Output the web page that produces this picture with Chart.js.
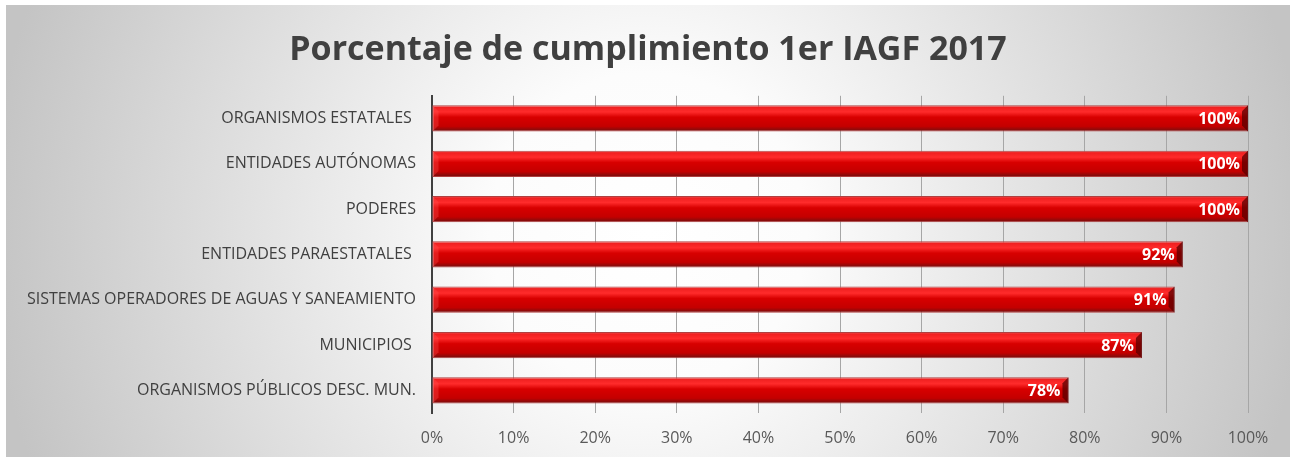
<!DOCTYPE html>
<html>
<head>
<meta charset="utf-8">
<script src="https://cdn.jsdelivr.net/npm/chart.js@4"></script>
<style>
  body { margin: 0; background: #fff; }
  #wrap {
    position: absolute; left: 6px; top: 5px; width: 1284px; height: 452px;
    background: radial-gradient(circle 660px at 50% 50%, #ffffff 0%, #fcfcfc 24%, #c4c4c4 100%);
  }
</style>
</head>
<body>
<div id="wrap"><canvas id="chart__canvas" width="1284" height="452"></canvas></div>
<script>
const categories = [
  'ORGANISMOS ESTATALES ',
  'ENTIDADES AUTÓNOMAS',
  'PODERES',
  'ENTIDADES PARAESTATALES ',
  'SISTEMAS OPERADORES DE AGUAS Y SANEAMIENTO',
  'MUNICIPIOS ',
  'ORGANISMOS PÚBLICOS DESC. MUN.'
];
const cumplimiento = [100, 100, 100, 92, 91, 87, 78];
const tickLabels = ['0%', '10%', '20%', '30%', '40%', '50%', '60%', '70%', '80%', '90%', '100%'];

const fontFamily = '"Open Sans", "Noto Sans", sans-serif';
const barPct = 0.58;

// vertical bevel gradient for each bar, built from the y scale
function barFill(ctx) {
  const chart = ctx.chart;
  const ys = chart.scales.y;
  if (!ys || ctx.type !== 'data') return '#d00000';
  const yc = ys.getPixelForValue(ctx.dataIndex);
  const h = Math.abs(ys.getPixelForValue(1) - ys.getPixelForValue(0)) * barPct;
  if (!isFinite(yc) || !isFinite(h) || h === 0) return '#d00000';
  const g = chart.ctx.createLinearGradient(0, yc - h / 2, 0, yc + h / 2);
  g.addColorStop(0, '#e87070');
  g.addColorStop(0.08, '#f02020');
  g.addColorStop(0.25, '#ff2b2b');
  g.addColorStop(0.45, '#d80000');
  g.addColorStop(0.8, '#c40000');
  g.addColorStop(0.92, '#900a0a');
  g.addColorStop(1, '#700a0a');
  return g;
}

const barDecor = {
  id: 'barDecor',
  afterDatasetsDraw(chart) {
    const ctx = chart.ctx;
    const meta = chart.getDatasetMeta(0);
    ctx.save();
    meta.data.forEach((bar, i) => {
      const top = bar.y - bar.height / 2;
      const bot = bar.y + bar.height / 2;
      const b = 6;
      // dark right end bevel
      ctx.fillStyle = 'rgba(90,0,0,0.75)';
      ctx.beginPath();
      ctx.moveTo(bar.x - b, top + b);
      ctx.lineTo(bar.x, top);
      ctx.lineTo(bar.x, bot);
      ctx.lineTo(bar.x - b, bot - b);
      ctx.closePath();
      ctx.fill();
      // lighter left end bevel
      ctx.fillStyle = 'rgba(255,80,80,0.35)';
      ctx.beginPath();
      ctx.moveTo(bar.base, top);
      ctx.lineTo(bar.base + b, top + b);
      ctx.lineTo(bar.base + b, bot - b);
      ctx.lineTo(bar.base, bot);
      ctx.closePath();
      ctx.fill();
      // value label
      ctx.fillStyle = '#ffffff';
      ctx.font = 'bold 16px ' + fontFamily;
      ctx.textAlign = 'right';
      ctx.textBaseline = 'middle';
      ctx.fillText(cumplimiento[i] + '%', bar.x - 8, bar.y + 1);
    });
    ctx.restore();
  }
};

const chartConfig = {
  type: 'bar',
  data: {
    labels: categories,
    datasets: [{
      data: cumplimiento,
      backgroundColor: barFill,
      borderColor: '#b04040',
      borderWidth: 1,
      borderSkipped: false,
      categoryPercentage: 1,
      barPercentage: barPct
    }]
  },
  options: {
    indexAxis: 'y',
    responsive: false,
    animation: false,
    layout: { padding: 0 },
    plugins: {
      legend: { display: false },
      tooltip: { enabled: false },
      title: {
        display: true,
        text: 'Porcentaje de cumplimiento 1er IAGF 2017',
        color: '#404040',
        font: { family: fontFamily, size: 34, weight: 'bold', lineHeight: 1.2 },
        padding: { top: 25, bottom: 25 }
      }
    },
    scales: {
      x: {
        min: 0,
        max: 100,
        ticks: {
          stepSize: 10,
          padding: 16,
          color: '#595959',
          font: { family: fontFamily, size: 16 },
          callback: (v, i) => tickLabels[i]
        },
        grid: { color: '#a6a6a6', lineWidth: 1, drawTicks: false },
        border: { display: false },
        afterFit(scale) { scale.height = 44; }
      },
      y: {
        ticks: {
          color: '#404040',
          padding: 16,
          font: { family: fontFamily, size: 16 }
        },
        grid: { display: false, drawTicks: false },
        border: { display: true, color: '#404040', width: 2 },
        afterFit(scale) { scale.width = 426; }
      },
      // empty right-hand spacer so the title stays centred on the whole canvas
      spacer: {
        type: 'linear',
        position: 'right',
        display: true,
        grid: { display: false, drawTicks: false },
        ticks: { display: false },
        border: { display: false },
        afterFit(scale) { scale.width = 42; }
      }
    }
  },
  plugins: [barDecor]
};

const chart = new Chart(document.getElementById('chart__canvas'), chartConfig);
</script>
</body>
</html>
